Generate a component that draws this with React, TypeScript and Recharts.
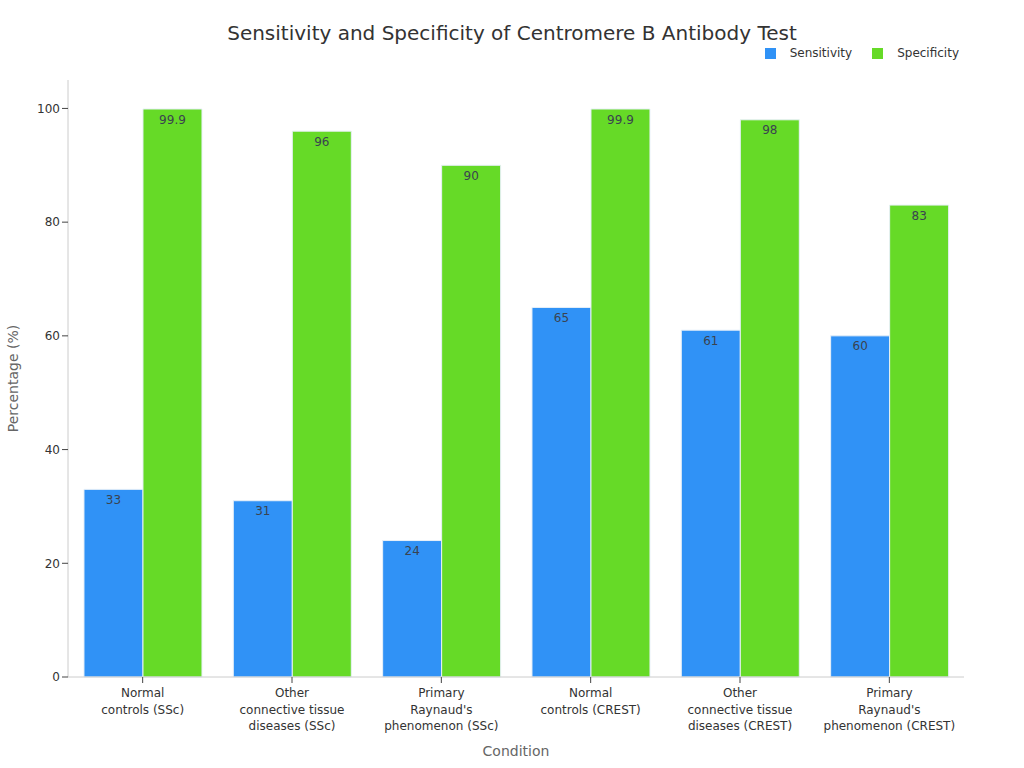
import { Bar, BarChart, LabelList, Legend, XAxis, YAxis } from 'recharts';

const conditions = [
  'Normal\ncontrols (SSc)',
  'Other\nconnective tissue\ndiseases (SSc)',
  "Primary\nRaynaud's\nphenomenon (SSc)",
  'Normal\ncontrols (CREST)',
  'Other\nconnective tissue\ndiseases (CREST)',
  "Primary\nRaynaud's\nphenomenon (CREST)",
];
const sensitivity = [33, 31, 24, 65, 61, 60];
const specificity = [99.9, 96, 90, 99.9, 98, 83];
const yTicks = [0, 20, 40, 60, 80, 100];

const COLORS = {
  Sensitivity: '#3092f6',
  Specificity: '#66da27',
};

const FONT = '"DejaVu Sans", sans-serif';

const data = conditions.map((name, i) => ({
  name,
  Sensitivity: sensitivity[i],
  Specificity: specificity[i],
}));

function MultiLineTick({ x, y, payload }: any) {
  const lines = String(payload.value).split('\n');
  return (
    <text x={x} y={y + 1} textAnchor="middle" fill="#333" fontSize={12} fontFamily={FONT}>
      {lines.map((line, i) => (
        <tspan key={i} x={x} dy={i === 0 ? 11 : 16.5}>
          {line}
        </tspan>
      ))}
    </text>
  );
}

function LegendContent() {
  return (
    <div style={{ display: 'flex', gap: 20, fontFamily: FONT, fontSize: 12, color: '#333' }}>
      {(['Sensitivity', 'Specificity'] as const).map((key) => (
        <span key={key} style={{ display: 'inline-flex', alignItems: 'center', gap: 14 }}>
          <span style={{ width: 11, height: 11, backgroundColor: COLORS[key], display: 'inline-block' }} />
          {key}
        </span>
      ))}
    </div>
  );
}

export default function App() {
  return (
    <div style={{ position: 'absolute', left: 0, top: 0, width: 1024, height: 768, background: '#fff' }}>
      <div
        style={{
          position: 'absolute',
          top: 21,
          left: 0,
          width: 1024,
          textAlign: 'center',
          fontFamily: FONT,
          fontSize: 20,
          color: '#333',
        }}
      >
        Sensitivity and Specificity of Centromere B Antibody Test
      </div>
      <BarChart
        width={1024}
        height={768}
        data={data}
        margin={{ top: 66, right: 60, left: 8, bottom: 31 }}
        barCategoryGap="10.7%"
        barGap={0}
      >
        <XAxis
          dataKey="name"
          interval={0}
          height={60}
          tick={<MultiLineTick />}
          tickLine={{ stroke: '#444' }}
          axisLine={{ stroke: '#ccc' }}
          label={{
            value: 'Condition',
            position: 'insideBottom',
            offset: -19,
            fill: '#666',
            fontSize: 14,
            fontFamily: FONT,
          }}
        />
        <YAxis
          width={60}
          domain={[0, 105]}
          ticks={yTicks}
          tick={{ fill: '#333', fontSize: 12, fontFamily: FONT }}
          tickLine={{ stroke: '#444' }}
          axisLine={{ stroke: '#ccc' }}
          label={{
            value: 'Percentage (%)',
            angle: -90,
            position: 'insideLeft',
            offset: 5,
            fill: '#666',
            fontSize: 14,
            fontFamily: FONT,
            style: { textAnchor: 'middle' },
          }}
        />
        <Legend
          verticalAlign="top"
          align="right"
          content={<LegendContent />}
          wrapperStyle={{ top: 46, right: 65, left: 'auto', width: 'auto' }}
        />
        {(['Sensitivity', 'Specificity'] as const).map((key) => (
          <Bar key={key} dataKey={key} fill={COLORS[key]} stroke="#e8f0f8" strokeWidth={1} isAnimationActive={false}>
            <LabelList
              dataKey={key}
              position="insideTop"
              offset={6}
              fill="#3a4350"
              fontSize={12}
              fontFamily={FONT}
            />
          </Bar>
        ))}
      </BarChart>
    </div>
  );
}
